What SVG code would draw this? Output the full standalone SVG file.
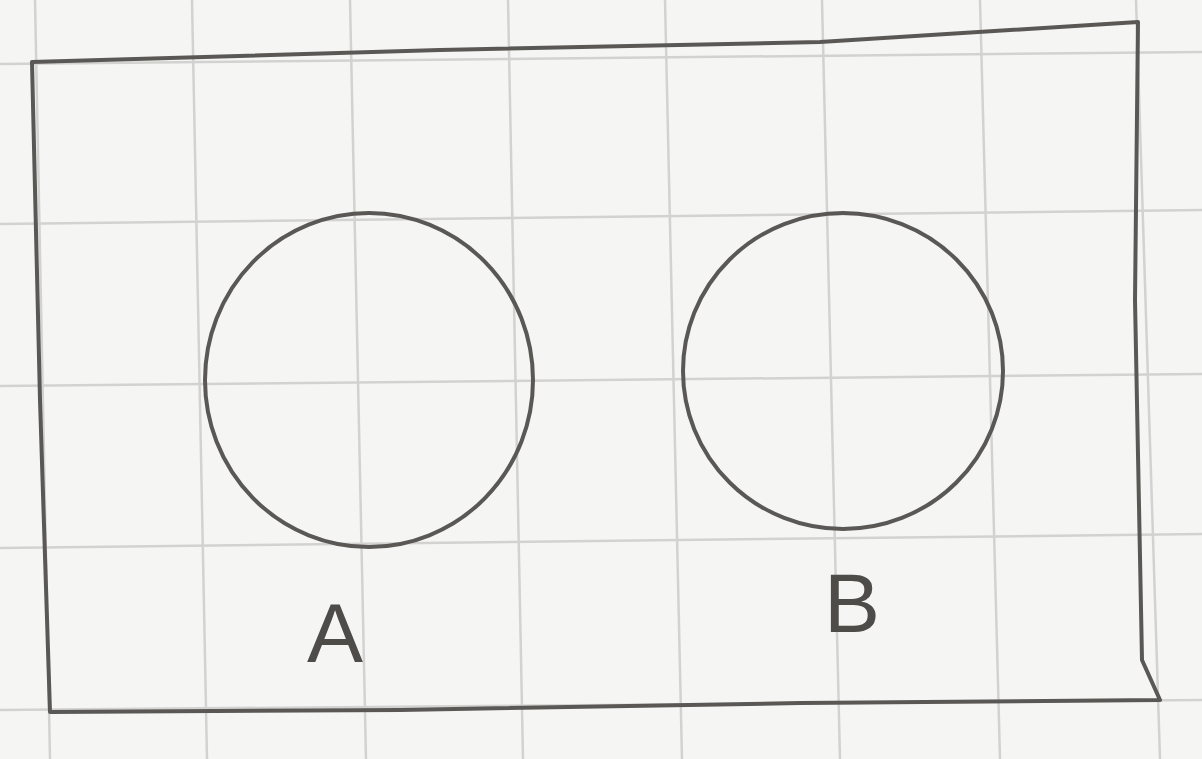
<svg xmlns="http://www.w3.org/2000/svg" width="1202" height="759" viewBox="0 0 1202 759">
  <style>
    .grid { stroke: #d2d2d0; stroke-width: 2.5; fill: none; }
    .ink { stroke: #5a5855; stroke-width: 4; fill: none; stroke-linecap: round; stroke-linejoin: round; }
    .label { font-family: "Liberation Sans", Arial, sans-serif; font-size: 84px; fill: #4e4c49; text-anchor: middle; }
  </style>
  <rect x="0" y="0" width="1202" height="759" fill="#f5f5f3"/>
  <g id="grid">
    <line class="grid" x1="35" y1="0" x2="50" y2="759"/>
    <line class="grid" x1="192" y1="0" x2="207" y2="759"/>
    <line class="grid" x1="350" y1="0" x2="366" y2="759"/>
    <line class="grid" x1="508" y1="0" x2="523" y2="759"/>
    <line class="grid" x1="665" y1="0" x2="682" y2="759"/>
    <line class="grid" x1="822" y1="0" x2="840" y2="759"/>
    <line class="grid" x1="980" y1="0" x2="1000" y2="759"/>
    <line class="grid" x1="1136" y1="0" x2="1160" y2="759"/>
    <line class="grid" x1="0" y1="64" x2="1202" y2="52"/>
    <line class="grid" x1="0" y1="224" x2="1202" y2="210"/>
    <line class="grid" x1="0" y1="386" x2="1202" y2="374"/>
    <line class="grid" x1="0" y1="548" x2="1202" y2="534"/>
    <line class="grid" x1="0" y1="710" x2="1202" y2="700"/>
  </g>
  <g id="frame">
    <path class="ink" d="M32 62 L440 50 L820 42 L1138 22 L1135 300 L1142 660 L1160 700 L800 703 L400 710 L50 712 L40 400 Z"/>
  </g>
  <g id="node-A">
    <ellipse class="ink" cx="369" cy="380" rx="164" ry="167"/>
    <text class="label" x="335" y="662">A</text>
  </g>
  <g id="node-B">
    <ellipse class="ink" cx="843" cy="371" rx="160" ry="158"/>
    <text class="label" x="852" y="632">B</text>
  </g>
  <g id="connectors"></g>
</svg>
